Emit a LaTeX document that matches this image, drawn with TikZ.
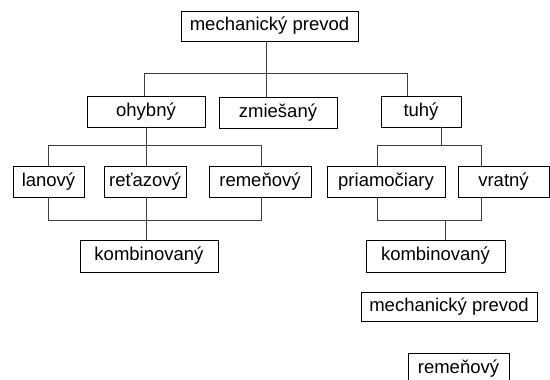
\documentclass[tikz,border=0pt]{standalone}
\usepackage{fontspec}
\setmainfont{Liberation Sans}
\begin{document}
\begin{tikzpicture}[x=1pt,y=-1pt,
  box/.style={draw=black,line width=0.8pt,inner sep=0pt,minimum height=31pt,
    font=\fontsize{18.5}{20}\selectfont,text=black,anchor=center},
  conn/.style={draw=black!75,line width=0.9pt}]
\useasboundingbox (0,0) rectangle (550,380);
\clip (0,0) rectangle (550,380);
% nodes
\node[box,minimum width=177pt,minimum height=30pt] (top) at (269.5,26) {mechanický prevod};
\node[box,minimum width=118pt] (ohyb) at (146,111.5) {ohybný};
\node[box,minimum width=118pt] (zmie) at (278,112.5) {zmiešaný};
\node[box,minimum width=80pt] (tuhy) at (421,111.5) {tuhý};
\node[box,minimum width=71pt] (lano) at (48.5,181.5) {lanový};
\node[box,minimum width=82pt] (reta) at (145,181.5) {reťazový};
\node[box,minimum width=102pt] (reme) at (260,181.5) {remeňový};
\node[box,minimum width=118pt] (priam) at (386,181.5) {priamočiary};
\node[box,minimum width=91pt] (vrat) at (503.5,181.5) {vratný};
\node[box,minimum width=138pt,minimum height=32pt] (kombL) at (149,256) {kombinovaný};
\node[box,minimum width=139pt,minimum height=32pt] (kombR) at (435.5,256) {kombinovaný};
\node[box,minimum width=176pt,minimum height=29pt] (mech2) at (449,306.5) {mechanický prevod};
\node[box,minimum width=101pt] (reme2) at (458.5,368.5) {remeňový};
% junction coordinates
\coordinate (b1) at (266,73);
\coordinate (b1l) at (144,73);
\coordinate (b1r) at (407,73);
\coordinate (b2) at (146,145);
\coordinate (b2l) at (48,145);
\coordinate (b2r) at (261,145);
\coordinate (b3) at (146,220);
\coordinate (b3l) at (48,220);
\coordinate (b3r) at (261,220);
\coordinate (b4) at (441,145);
\coordinate (b4l) at (377,145);
\coordinate (b4r) at (481,145);
\coordinate (b5) at (445,220);
\coordinate (b5l) at (377,220);
\coordinate (b5r) at (481,220);
% level 1
\draw[conn] (top.south -| b1) -- (zmie.north -| b1);
\draw[conn] (ohyb.north -| b1l) -- (b1l) -- (b1r) -- (tuhy.north -| b1r);
% ohybny subtree
\draw[conn] (ohyb.south -| b2) -- (b2);
\draw[conn] (lano.north -| b2l) -- (b2l) -- (b2r) -- (reme.north -| b2r);
\draw[conn] (b2) -- (reta.north -| b2);
\draw[conn] (lano.south -| b3l) -- (b3l) -- (b3r) -- (reme.south -| b3r);
\draw[conn] (reta.south -| b3) -- (kombL.north -| b3);
% tuhy subtree
\draw[conn] (tuhy.south -| b4) -- (b4);
\draw[conn] (priam.north -| b4l) -- (b4l) -- (b4r) -- (vrat.north -| b4r);
\draw[conn] (priam.south -| b5l) -- (b5l) -- (b5r) -- (vrat.south -| b5r);
\draw[conn] (b5) -- (kombR.north -| b5);
\end{tikzpicture}
\end{document}
